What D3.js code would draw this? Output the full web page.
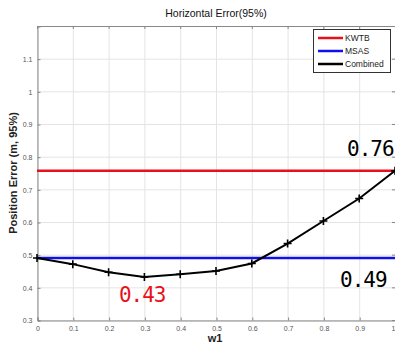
<!DOCTYPE html>
<html>
<head>
<meta charset="utf-8">
<script src="https://cdn.jsdelivr.net/npm/d3@7"></script>
<style>
  body { margin: 0; background: #fff; }
  svg { display: block; }
</style>
</head>
<body>
<svg id="chart" width="395" height="346"></svg>
<script>
// Weight w1 and the resulting horizontal 95% position error
const w1 = [0, 0.1, 0.2, 0.3, 0.4, 0.5, 0.6, 0.7, 0.8, 0.9, 1.0];
const combined = [0.490, 0.471, 0.446, 0.432, 0.440, 0.450, 0.473, 0.534, 0.603, 0.672, 0.757];
const kwtb = 0.757;
const msas = 0.490;
const xTicks = [0, 0.1, 0.2, 0.3, 0.4, 0.5, 0.6, 0.7, 0.8, 0.9, 1];
const yTicks = [0.3, 0.4, 0.5, 0.6, 0.7, 0.8, 0.9, 1, 1.1];
const legendItems = ["KWTB", "MSAS", "Combined"];
const legendColors = ["#e8101c", "#1010e8", "#000000"];
const callouts = [
  { x: 1.0, y: 0.76, text: "0.76", color: "#000" },
  { x: 1.0, y: 0.49, text: "0.49", color: "#000" },
  { x: 0.3, y: 0.43, text: "0.43", color: "#e8101c" }
];

const svg = d3.select("#chart");
const m = { left: 37, right: 395, top: 26, bottom: 320 };

const x = d3.scaleLinear().domain([0, 1]).range([m.left, m.right]);
const y = d3.scaleLinear().domain([0.3, 1.2]).range([m.bottom, m.top]);

// Grid
const grid = svg.append("g").attr("stroke", "#e4e4e4").attr("stroke-width", 1);
xTicks.forEach(t => grid.append("line")
  .attr("x1", x(t) + 0.5).attr("x2", x(t) + 0.5)
  .attr("y1", m.top).attr("y2", m.bottom));
yTicks.forEach(t => grid.append("line")
  .attr("x1", m.left).attr("x2", m.right)
  .attr("y1", y(t) + 0.5).attr("y2", y(t) + 0.5));

// Axes
const axisFont = "Liberation Sans, Arial, sans-serif";
const xAxis = svg.append("g").attr("transform", `translate(0.5,${m.bottom + 0.5})`)
  .call(d3.axisBottom(x).tickValues(xTicks).tickSize(-3).tickPadding(6)
    .tickFormat(d => d === 0 ? "0" : d === 1 ? "1" : d3.format(".1f")(d)));
const yAxis = svg.append("g").attr("transform", `translate(${m.left + 0.5},0.5)`)
  .call(d3.axisLeft(y).tickValues(yTicks).tickSize(-3).tickPadding(5)
    .tickFormat(d => (d === 1 ? "1" : d3.format(".1f")(d))));
[xAxis, yAxis].forEach(a => {
  a.select(".domain").attr("stroke", "#888");
  a.selectAll(".tick line").attr("stroke", "#888");
  a.selectAll("text").attr("fill", "#555").attr("font-size", 7).attr("font-family", axisFont);
});
// keep the last x label inside the frame
xAxis.selectAll(".tick text").filter(d => d === 1).attr("text-anchor", "end").attr("dx", -0.5);

// top and right frame with ticks
svg.append("line").attr("x1", m.left).attr("x2", m.right).attr("y1", m.top + 0.5).attr("y2", m.top + 0.5).attr("stroke", "#888");
xTicks.forEach(t => svg.append("line").attr("x1", x(t) + 0.5).attr("x2", x(t) + 0.5)
  .attr("y1", m.top).attr("y2", m.top + 3).attr("stroke", "#888"));
yTicks.forEach(t => svg.append("line").attr("x1", m.right - 3).attr("x2", m.right)
  .attr("y1", y(t) + 0.5).attr("y2", y(t) + 0.5).attr("stroke", "#888"));

// Reference lines
svg.append("line").attr("x1", x(0)).attr("x2", x(1)).attr("y1", y(kwtb)).attr("y2", y(kwtb))
  .attr("stroke", legendColors[0]).attr("stroke-width", 2.5);
svg.append("line").attr("x1", x(0)).attr("x2", x(1)).attr("y1", y(msas)).attr("y2", y(msas))
  .attr("stroke", legendColors[1]).attr("stroke-width", 2.5);

// Combined curve with plus markers
const pts = w1.map((w, i) => [w, combined[i]]);
svg.append("path").datum(pts)
  .attr("fill", "none").attr("stroke", "#000").attr("stroke-width", 2)
  .attr("d", d3.line().x(d => x(d[0])).y(d => y(d[1])));
svg.append("g").selectAll("path").data(pts).join("path")
  .attr("transform", d => `translate(${x(d[0])},${y(d[1])})`)
  .attr("d", "M-4,0H4M0,-4V4")
  .attr("stroke", "#000").attr("stroke-width", 1.6);

// Title and axis labels
svg.append("text").attr("x", (m.left + m.right) / 2).attr("y", 17)
  .attr("text-anchor", "middle").attr("font-size", 10.5).attr("font-family", axisFont)
  .attr("fill", "#111").text("Horizontal Error(95%)");
svg.append("text").attr("x", 215).attr("y", 342)
  .attr("text-anchor", "middle").attr("font-size", 11).attr("font-family", axisFont)
  .attr("font-weight", "bold").attr("fill", "#222").text("w1");
svg.append("text").attr("transform", `translate(17,${(m.top + m.bottom) / 2}) rotate(-90)`)
  .attr("text-anchor", "middle").attr("font-size", 11).attr("font-family", axisFont)
  .attr("font-weight", "bold").attr("fill", "#222").text("Position Error (m, 95%)");

// Legend
const lg = svg.append("g").attr("transform", "translate(313,29)");
lg.append("rect").attr("x", 0.5).attr("y", 0.5).attr("width", 77).attr("height", 43)
  .attr("fill", "#fff").attr("stroke", "#333").attr("stroke-width", 1);
legendItems.forEach((name, i) => {
  const yy = 9 + i * 13;
  lg.append("line").attr("x1", 5).attr("x2", 30).attr("y1", yy).attr("y2", yy)
    .attr("stroke", legendColors[i]).attr("stroke-width", 2.5);
  lg.append("text").attr("x", 32).attr("y", yy + 3).attr("font-size", 8.5)
    .attr("font-family", axisFont).attr("fill", "#222").text(name);
});

// Value callouts
const calloutPos = [
  { dx: -48, dy: -13.5 },
  { dx: -55, dy: 29 },
  { dx: -25.5, dy: 24.5 }
];
callouts.forEach((c, i) => {
  svg.append("text")
    .attr("x", x(c.x) + calloutPos[i].dx)
    .attr("y", y(c.y) + calloutPos[i].dy)
    .attr("font-size", 21).attr("letter-spacing", -1)
    .attr("font-family", "DejaVu Sans Mono, monospace")
    .attr("fill", c.color).text(c.text);
});
</script>
</body>
</html>
